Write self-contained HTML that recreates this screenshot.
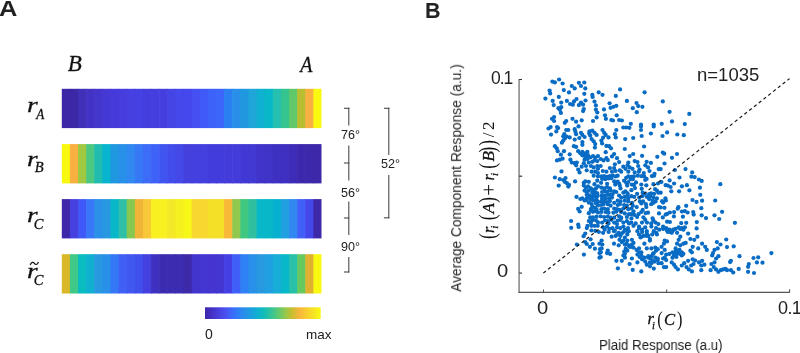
<!DOCTYPE html>
<html><head><meta charset="utf-8"><style>
html,body{margin:0;padding:0;background:#fff;}
body{width:800px;height:353px;position:relative;overflow:hidden;font-family:"Liberation Sans",sans-serif;color:#222;}
.t{position:absolute;white-space:nowrap;line-height:1;}
.s{font-family:"Liberation Serif",serif;font-style:italic;}
svg{position:absolute;left:0;top:0;will-change:transform;}
.t{will-change:transform;}
</style></head><body>
<svg width="800" height="353" viewBox="0 0 800 353"><rect x="61.80" y="88.8" width="8.72" height="39.3" fill="#3C27A6"/><rect x="69.92" y="88.8" width="8.72" height="39.3" fill="#3C27A6"/><rect x="78.03" y="88.8" width="8.72" height="39.3" fill="#4030B8"/><rect x="86.15" y="88.8" width="8.72" height="39.3" fill="#4233C4"/><rect x="94.26" y="88.8" width="8.72" height="39.3" fill="#4436CC"/><rect x="102.38" y="88.8" width="8.72" height="39.3" fill="#4538D5"/><rect x="110.49" y="88.8" width="8.72" height="39.3" fill="#463BDA"/><rect x="118.61" y="88.8" width="8.72" height="39.3" fill="#463DDC"/><rect x="126.72" y="88.8" width="8.72" height="39.3" fill="#4640E0"/><rect x="134.84" y="88.8" width="8.72" height="39.3" fill="#4540E2"/><rect x="142.96" y="88.8" width="8.72" height="39.3" fill="#443EDE"/><rect x="151.07" y="88.8" width="8.72" height="39.3" fill="#443EDF"/><rect x="159.19" y="88.8" width="8.72" height="39.3" fill="#443EDE"/><rect x="167.30" y="88.8" width="8.72" height="39.3" fill="#4545E6"/><rect x="175.42" y="88.8" width="8.72" height="39.3" fill="#4548EA"/><rect x="183.53" y="88.8" width="8.72" height="39.3" fill="#4548EC"/><rect x="191.65" y="88.8" width="8.72" height="39.3" fill="#4650F2"/><rect x="199.77" y="88.8" width="8.72" height="39.3" fill="#3F5AF8"/><rect x="207.88" y="88.8" width="8.72" height="39.3" fill="#3D62FA"/><rect x="216.00" y="88.8" width="8.72" height="39.3" fill="#3C66FA"/><rect x="224.11" y="88.8" width="8.72" height="39.3" fill="#2A80F0"/><rect x="232.23" y="88.8" width="8.72" height="39.3" fill="#2890E8"/><rect x="240.34" y="88.8" width="8.72" height="39.3" fill="#2098E0"/><rect x="248.46" y="88.8" width="8.72" height="39.3" fill="#20A5D8"/><rect x="256.57" y="88.8" width="8.72" height="39.3" fill="#10B0D0"/><rect x="264.69" y="88.8" width="8.72" height="39.3" fill="#08B8C8"/><rect x="272.81" y="88.8" width="8.72" height="39.3" fill="#25C0B0"/><rect x="280.92" y="88.8" width="8.72" height="39.3" fill="#35C490"/><rect x="289.04" y="88.8" width="8.72" height="39.3" fill="#60C868"/><rect x="297.15" y="88.8" width="8.72" height="39.3" fill="#B8BE30"/><rect x="305.27" y="88.8" width="8.72" height="39.3" fill="#F8B040"/><rect x="313.38" y="88.8" width="8.12" height="39.3" fill="#F8F810"/><rect x="61.80" y="144.1" width="8.72" height="39.3" fill="#F8F810"/><rect x="69.92" y="144.1" width="8.72" height="39.3" fill="#F8B040"/><rect x="78.03" y="144.1" width="8.72" height="39.3" fill="#A0C840"/><rect x="86.15" y="144.1" width="8.72" height="39.3" fill="#4CC880"/><rect x="94.26" y="144.1" width="8.72" height="39.3" fill="#20BCB0"/><rect x="102.38" y="144.1" width="8.72" height="39.3" fill="#08B4D0"/><rect x="110.49" y="144.1" width="8.72" height="39.3" fill="#2098E0"/><rect x="118.61" y="144.1" width="8.72" height="39.3" fill="#2890E8"/><rect x="126.72" y="144.1" width="8.72" height="39.3" fill="#3088F0"/><rect x="134.84" y="144.1" width="8.72" height="39.3" fill="#3678F5"/><rect x="142.96" y="144.1" width="8.72" height="39.3" fill="#3C6CF8"/><rect x="151.07" y="144.1" width="8.72" height="39.3" fill="#3E62F8"/><rect x="159.19" y="144.1" width="8.72" height="39.3" fill="#4055F0"/><rect x="167.30" y="144.1" width="8.72" height="39.3" fill="#424CEA"/><rect x="175.42" y="144.1" width="8.72" height="39.3" fill="#4448E6"/><rect x="183.53" y="144.1" width="8.72" height="39.3" fill="#4440DC"/><rect x="191.65" y="144.1" width="8.72" height="39.3" fill="#4440E0"/><rect x="199.77" y="144.1" width="8.72" height="39.3" fill="#4440E0"/><rect x="207.88" y="144.1" width="8.72" height="39.3" fill="#433CDC"/><rect x="216.00" y="144.1" width="8.72" height="39.3" fill="#433CDC"/><rect x="224.11" y="144.1" width="8.72" height="39.3" fill="#433CDA"/><rect x="232.23" y="144.1" width="8.72" height="39.3" fill="#433CDA"/><rect x="240.34" y="144.1" width="8.72" height="39.3" fill="#4238D4"/><rect x="248.46" y="144.1" width="8.72" height="39.3" fill="#4238D2"/><rect x="256.57" y="144.1" width="8.72" height="39.3" fill="#4134CA"/><rect x="264.69" y="144.1" width="8.72" height="39.3" fill="#4034C8"/><rect x="272.81" y="144.1" width="8.72" height="39.3" fill="#3E30C0"/><rect x="280.92" y="144.1" width="8.72" height="39.3" fill="#3E30C0"/><rect x="289.04" y="144.1" width="8.72" height="39.3" fill="#3D2CB8"/><rect x="297.15" y="144.1" width="8.72" height="39.3" fill="#3C28AC"/><rect x="305.27" y="144.1" width="8.72" height="39.3" fill="#3C28AA"/><rect x="313.38" y="144.1" width="8.12" height="39.3" fill="#3C28A8"/><rect x="61.80" y="199.1" width="8.72" height="39.3" fill="#3C28A8"/><rect x="69.92" y="199.1" width="8.72" height="39.3" fill="#4640E0"/><rect x="78.03" y="199.1" width="8.72" height="39.3" fill="#4058F8"/><rect x="86.15" y="199.1" width="8.72" height="39.3" fill="#3878F8"/><rect x="94.26" y="199.1" width="8.72" height="39.3" fill="#2A90E8"/><rect x="102.38" y="199.1" width="8.72" height="39.3" fill="#2898E0"/><rect x="110.49" y="199.1" width="8.72" height="39.3" fill="#08B8C8"/><rect x="118.61" y="199.1" width="8.72" height="39.3" fill="#30C0A8"/><rect x="126.72" y="199.1" width="8.72" height="39.3" fill="#88C850"/><rect x="134.84" y="199.1" width="8.72" height="39.3" fill="#F0B438"/><rect x="142.96" y="199.1" width="8.72" height="39.3" fill="#F8C838"/><rect x="151.07" y="199.1" width="8.72" height="39.3" fill="#F8F020"/><rect x="159.19" y="199.1" width="8.72" height="39.3" fill="#F8F020"/><rect x="167.30" y="199.1" width="8.72" height="39.3" fill="#F5E828"/><rect x="175.42" y="199.1" width="8.72" height="39.3" fill="#F5F020"/><rect x="183.53" y="199.1" width="8.72" height="39.3" fill="#F8F818"/><rect x="191.65" y="199.1" width="8.72" height="39.3" fill="#F8D830"/><rect x="199.77" y="199.1" width="8.72" height="39.3" fill="#F8D830"/><rect x="207.88" y="199.1" width="8.72" height="39.3" fill="#F5E028"/><rect x="216.00" y="199.1" width="8.72" height="39.3" fill="#F5E028"/><rect x="224.11" y="199.1" width="8.72" height="39.3" fill="#F8B838"/><rect x="232.23" y="199.1" width="8.72" height="39.3" fill="#90C850"/><rect x="240.34" y="199.1" width="8.72" height="39.3" fill="#40C880"/><rect x="248.46" y="199.1" width="8.72" height="39.3" fill="#30C0A0"/><rect x="256.57" y="199.1" width="8.72" height="39.3" fill="#08B8C8"/><rect x="264.69" y="199.1" width="8.72" height="39.3" fill="#08B8C8"/><rect x="272.81" y="199.1" width="8.72" height="39.3" fill="#08B0D0"/><rect x="280.92" y="199.1" width="8.72" height="39.3" fill="#20A0E0"/><rect x="289.04" y="199.1" width="8.72" height="39.3" fill="#3088F0"/><rect x="297.15" y="199.1" width="8.72" height="39.3" fill="#4060F8"/><rect x="305.27" y="199.1" width="8.72" height="39.3" fill="#4548E8"/><rect x="313.38" y="199.1" width="8.12" height="39.3" fill="#3C28A8"/><rect x="61.80" y="254.2" width="8.72" height="39.3" fill="#D8B828"/><rect x="69.92" y="254.2" width="8.72" height="39.3" fill="#40C888"/><rect x="78.03" y="254.2" width="8.72" height="39.3" fill="#08BCC0"/><rect x="86.15" y="254.2" width="8.72" height="39.3" fill="#10B0D0"/><rect x="94.26" y="254.2" width="8.72" height="39.3" fill="#2898E0"/><rect x="102.38" y="254.2" width="8.72" height="39.3" fill="#2890E8"/><rect x="110.49" y="254.2" width="8.72" height="39.3" fill="#3578F5"/><rect x="118.61" y="254.2" width="8.72" height="39.3" fill="#4060F5"/><rect x="126.72" y="254.2" width="8.72" height="39.3" fill="#4058F0"/><rect x="134.84" y="254.2" width="8.72" height="39.3" fill="#4050EC"/><rect x="142.96" y="254.2" width="8.72" height="39.3" fill="#4440E0"/><rect x="151.07" y="254.2" width="8.72" height="39.3" fill="#3E30C0"/><rect x="159.19" y="254.2" width="8.72" height="39.3" fill="#3C2CB0"/><rect x="167.30" y="254.2" width="8.72" height="39.3" fill="#3C2CB0"/><rect x="175.42" y="254.2" width="8.72" height="39.3" fill="#3C2CB0"/><rect x="183.53" y="254.2" width="8.72" height="39.3" fill="#3C2AA8"/><rect x="191.65" y="254.2" width="8.72" height="39.3" fill="#4234CC"/><rect x="199.77" y="254.2" width="8.72" height="39.3" fill="#4436D0"/><rect x="207.88" y="254.2" width="8.72" height="39.3" fill="#4434D0"/><rect x="216.00" y="254.2" width="8.72" height="39.3" fill="#4436D0"/><rect x="224.11" y="254.2" width="8.72" height="39.3" fill="#4440E4"/><rect x="232.23" y="254.2" width="8.72" height="39.3" fill="#3E60F8"/><rect x="240.34" y="254.2" width="8.72" height="39.3" fill="#3080F5"/><rect x="248.46" y="254.2" width="8.72" height="39.3" fill="#2890E8"/><rect x="256.57" y="254.2" width="8.72" height="39.3" fill="#2898E0"/><rect x="264.69" y="254.2" width="8.72" height="39.3" fill="#20A0E0"/><rect x="272.81" y="254.2" width="8.72" height="39.3" fill="#18ACD8"/><rect x="280.92" y="254.2" width="8.72" height="39.3" fill="#08B8C8"/><rect x="289.04" y="254.2" width="8.72" height="39.3" fill="#28C0A8"/><rect x="297.15" y="254.2" width="8.72" height="39.3" fill="#68C860"/><rect x="305.27" y="254.2" width="8.72" height="39.3" fill="#E0B030"/><rect x="313.38" y="254.2" width="8.12" height="39.3" fill="#F8F810"/><defs><linearGradient id="cb" x1="0" x2="1" y1="0" y2="0"><stop offset="0" stop-color="#3D26A8"/><stop offset="0.06" stop-color="#4431C4"/><stop offset="0.12" stop-color="#4840DE"/><stop offset="0.18" stop-color="#4A52F0"/><stop offset="0.22" stop-color="#4063F8"/><stop offset="0.26" stop-color="#3575FA"/><stop offset="0.31" stop-color="#2D86F0"/><stop offset="0.38" stop-color="#219AE2"/><stop offset="0.445" stop-color="#12AED2"/><stop offset="0.5" stop-color="#10BCBC"/><stop offset="0.56" stop-color="#2EC2A0"/><stop offset="0.62" stop-color="#52C87A"/><stop offset="0.69" stop-color="#90C850"/><stop offset="0.75" stop-color="#C8BE30"/><stop offset="0.815" stop-color="#F6B63C"/><stop offset="0.88" stop-color="#F8CE30"/><stop offset="0.945" stop-color="#F5E622"/><stop offset="1" stop-color="#F9FA12"/></linearGradient></defs><rect x="205" y="307.3" width="115.7" height="11.7" fill="url(#cb)"/><line x1="343.9" y1="108.3" x2="349.35" y2="108.3" stroke="#4a4a4a" stroke-width="1.1" /><line x1="343.9" y1="163" x2="349.35" y2="163" stroke="#4a4a4a" stroke-width="1.1" /><line x1="343.9" y1="218" x2="349.35" y2="218" stroke="#4a4a4a" stroke-width="1.1" /><line x1="343.9" y1="272" x2="349.35" y2="272" stroke="#4a4a4a" stroke-width="1.1" /><line x1="348.8" y1="107.75" x2="348.8" y2="125.5" stroke="#4a4a4a" stroke-width="1.1" /><line x1="348.8" y1="145.5" x2="348.8" y2="180.5" stroke="#4a4a4a" stroke-width="1.1" /><line x1="348.8" y1="201.5" x2="348.8" y2="235" stroke="#4a4a4a" stroke-width="1.1" /><line x1="348.8" y1="257" x2="348.8" y2="272.55" stroke="#4a4a4a" stroke-width="1.1" /><line x1="383.9" y1="108.3" x2="389.35" y2="108.3" stroke="#4a4a4a" stroke-width="1.1" /><line x1="383.9" y1="217.8" x2="389.35" y2="217.8" stroke="#4a4a4a" stroke-width="1.1" /><line x1="388.8" y1="107.75" x2="388.8" y2="155" stroke="#4a4a4a" stroke-width="1.1" /><line x1="388.8" y1="175" x2="388.8" y2="218.35" stroke="#4a4a4a" stroke-width="1.1" /><line x1="519.1" y1="79.0" x2="519.1" y2="292.6" stroke="#999" stroke-width="1.8" /><line x1="518.4" y1="292.4" x2="789.9" y2="292.4" stroke="#555" stroke-width="1.3" /><line x1="519.2" y1="79.5" x2="522" y2="79.5" stroke="#333" stroke-width="1.1" /><line x1="519.2" y1="176.2" x2="522.2" y2="176.2" stroke="#333" stroke-width="1.2" /><line x1="519.2" y1="273.1" x2="522" y2="273.1" stroke="#333" stroke-width="1.1" /><line x1="543.5" y1="292.6" x2="543.5" y2="289.5" stroke="#555" stroke-width="1.1" /><line x1="666.6" y1="292.6" x2="666.6" y2="289.5" stroke="#555" stroke-width="1.1" /><line x1="789.6" y1="292.6" x2="789.6" y2="289.2" stroke="#555" stroke-width="1.1" /><text x="67.77" y="71.4" font-size="23" font-family="Liberation Serif" font-style="italic" fill="#111" stroke="#111" stroke-width="0.3" >B</text><text x="300.3" y="71.6" font-size="23" font-family="Liberation Serif" font-style="italic" fill="#111" stroke="#111" stroke-width="0.3" textLength="12.2" lengthAdjust="spacingAndGlyphs">A</text><text transform="translate(26.9,111.9) scale(1.27,1)" x="0" y="0" font-size="21.5" font-family="Liberation Serif" font-style="italic" fill="#111" stroke="#111" stroke-width="0.3">r</text><text x="36.2" y="119" font-size="14.5" font-family="Liberation Serif" font-style="italic" fill="#111" stroke="#111" stroke-width="0.3" textLength="8.0" lengthAdjust="spacingAndGlyphs">A</text><text transform="translate(26.9,165.8) scale(1.27,1)" x="0" y="0" font-size="21.5" font-family="Liberation Serif" font-style="italic" fill="#111" stroke="#111" stroke-width="0.3">r</text><text x="34.699999999999996" y="171.5" font-size="14.5" font-family="Liberation Serif" font-style="italic" fill="#111" stroke="#111" stroke-width="0.3" >B</text><text transform="translate(26.9,222) scale(1.27,1)" x="0" y="0" font-size="21.5" font-family="Liberation Serif" font-style="italic" fill="#111" stroke="#111" stroke-width="0.3">r</text><text x="33.7" y="229" font-size="14.5" font-family="Liberation Serif" font-style="italic" fill="#111" stroke="#111" stroke-width="0.3" >C</text><text transform="translate(26.9,278.4) scale(1.27,1)" x="0" y="0" font-size="21.5" font-family="Liberation Serif" font-style="italic" fill="#111" stroke="#111" stroke-width="0.3">r</text><text x="33.7" y="284.8" font-size="14.5" font-family="Liberation Serif" font-style="italic" fill="#111" stroke="#111" stroke-width="0.3" >C</text><path d="M30.2,265 C31.2,261.6 33.4,261.9 34.4,263.4 S37.1,265.2 38.5,262.1" fill="none" stroke="#111" stroke-width="1.15"/><g transform="translate(494,238.3) rotate(-90)"><text transform="translate(0.03,0.9) scale(0.74,1)" x="-0.93" y="0" font-size="23.3" font-family="Liberation Serif" fill="#111">(</text><text x="5.40" y="0" font-size="16" font-family="Liberation Serif" font-style="italic" fill="#111" stroke="#111" stroke-width="0.3">r</text><text x="9.60" y="4" font-size="11" font-family="Liberation Serif" font-style="italic" fill="#111" stroke="#111" stroke-width="0.3">i</text><text transform="translate(18.63,0.9) scale(0.74,1)" x="-0.93" y="0" font-size="23.3" font-family="Liberation Serif" fill="#111">(</text><text x="24.85" y="0" font-size="17" font-family="Liberation Serif" font-style="italic" fill="#111" stroke="#111" stroke-width="0.3">A</text><text transform="translate(36.00,0.9) scale(0.74,1)" x="-0.70" y="0" font-size="23.3" font-family="Liberation Serif" fill="#111">)</text><text x="42.60" y="2.3" font-size="21" font-family="Liberation Serif" fill="#111">+</text><text x="57.70" y="0" font-size="16" font-family="Liberation Serif" font-style="italic" fill="#111" stroke="#111" stroke-width="0.3">r</text><text x="62.30" y="4" font-size="11" font-family="Liberation Serif" font-style="italic" fill="#111" stroke="#111" stroke-width="0.3">i</text><text transform="translate(70.33,0.9) scale(0.74,1)" x="-0.93" y="0" font-size="23.3" font-family="Liberation Serif" fill="#111">(</text><text x="76.80" y="0" font-size="17" font-family="Liberation Serif" font-style="italic" fill="#111" stroke="#111" stroke-width="0.3">B</text><text transform="translate(86.30,0.9) scale(0.74,1)" x="-0.70" y="0" font-size="23.3" font-family="Liberation Serif" fill="#111">)</text><text transform="translate(93.00,0.9) scale(0.74,1)" x="-0.70" y="0" font-size="23.3" font-family="Liberation Serif" fill="#111">)</text><text x="101.00" y="0" font-size="17" font-family="Liberation Serif" fill="#111">/</text><text x="108.30" y="0" font-size="17" font-family="Liberation Serif" fill="#111">2</text></g><text x="647.5" y="324.3" font-size="16.5" font-family="Liberation Serif" font-style="italic" fill="#111" stroke="#111" stroke-width="0.3" >r</text><text x="651.9" y="328.8" font-size="10.5" font-family="Liberation Serif" font-style="italic" fill="#111" stroke="#111" stroke-width="0.3" >i</text><text transform="translate(657.9,325.8) scale(0.74,1)" x="-0.88" y="0" font-size="22" font-family="Liberation Serif" fill="#111">(</text><text x="664.1" y="325" font-size="16.6" font-family="Liberation Serif" font-style="italic" fill="#111" stroke="#111" stroke-width="0.3" >C</text><text transform="translate(677.6,325.8) scale(0.74,1)" x="-0.66" y="0" font-size="22" font-family="Liberation Serif" fill="#111">)</text><g fill="#086BC4"><circle cx="552.4" cy="81.6" r="2.12"/><circle cx="554.9" cy="82.4" r="2.12"/><circle cx="559.1" cy="79.5" r="2.12"/><circle cx="562.6" cy="83.5" r="2.12"/><circle cx="578.9" cy="82.8" r="2.12"/><circle cx="584.3" cy="82.5" r="2.12"/><circle cx="571.8" cy="86.0" r="2.12"/><circle cx="574.7" cy="88.4" r="2.12"/><circle cx="581.0" cy="86.0" r="2.12"/><circle cx="585.3" cy="88.4" r="2.12"/><circle cx="549.6" cy="90.6" r="2.12"/><circle cx="550.2" cy="93.4" r="2.12"/><circle cx="563.8" cy="90.1" r="2.12"/><circle cx="569.0" cy="92.4" r="2.12"/><circle cx="584.3" cy="93.8" r="2.12"/><circle cx="592.3" cy="94.8" r="2.12"/><circle cx="592.6" cy="96.9" r="2.12"/><circle cx="598.7" cy="92.3" r="2.12"/><circle cx="545.4" cy="98.6" r="2.12"/><circle cx="558.8" cy="96.9" r="2.12"/><circle cx="552.7" cy="100.9" r="2.12"/><circle cx="553.7" cy="105.1" r="2.12"/><circle cx="561.2" cy="102.6" r="2.12"/><circle cx="566.9" cy="100.9" r="2.12"/><circle cx="570.1" cy="104.0" r="2.12"/><circle cx="572.8" cy="104.7" r="2.12"/><circle cx="574.0" cy="101.4" r="2.12"/><circle cx="576.5" cy="99.0" r="2.12"/><circle cx="578.9" cy="105.1" r="2.12"/><circle cx="581.0" cy="102.6" r="2.12"/><circle cx="583.1" cy="104.7" r="2.12"/><circle cx="585.5" cy="100.5" r="2.12"/><circle cx="594.5" cy="101.6" r="2.12"/><circle cx="595.9" cy="105.4" r="2.12"/><circle cx="558.4" cy="108.2" r="2.12"/><circle cx="561.2" cy="107.2" r="2.12"/><circle cx="559.8" cy="109.7" r="2.12"/><circle cx="560.9" cy="112.9" r="2.12"/><circle cx="583.8" cy="109.0" r="2.12"/><circle cx="583.1" cy="111.1" r="2.12"/><circle cx="595.9" cy="109.7" r="2.12"/><circle cx="597.3" cy="112.5" r="2.12"/><circle cx="554.1" cy="117.0" r="2.12"/><circle cx="552.0" cy="118.8" r="2.12"/><circle cx="554.1" cy="121.0" r="2.12"/><circle cx="596.6" cy="117.4" r="2.12"/><circle cx="593.0" cy="121.0" r="2.12"/><circle cx="572.5" cy="118.8" r="2.12"/><circle cx="576.1" cy="121.7" r="2.12"/><circle cx="581.7" cy="120.3" r="2.12"/><circle cx="566.2" cy="121.0" r="2.12"/><circle cx="564.8" cy="122.8" r="2.12"/><circle cx="602.5" cy="94.8" r="2.12"/><circle cx="620.1" cy="89.4" r="2.12"/><circle cx="615.8" cy="95.9" r="2.12"/><circle cx="644.6" cy="92.3" r="2.12"/><circle cx="626.9" cy="100.9" r="2.12"/><circle cx="609.6" cy="103.3" r="2.12"/><circle cx="610.6" cy="107.8" r="2.12"/><circle cx="613.4" cy="106.8" r="2.12"/><circle cx="616.3" cy="105.8" r="2.12"/><circle cx="604.0" cy="109.4" r="2.12"/><circle cx="636.5" cy="103.0" r="2.12"/><circle cx="638.2" cy="106.1" r="2.12"/><circle cx="642.4" cy="106.8" r="2.12"/><circle cx="632.8" cy="108.2" r="2.12"/><circle cx="636.8" cy="112.2" r="2.12"/><circle cx="605.0" cy="115.3" r="2.12"/><circle cx="605.9" cy="118.8" r="2.12"/><circle cx="616.7" cy="115.3" r="2.12"/><circle cx="611.3" cy="120.0" r="2.12"/><circle cx="613.0" cy="120.5" r="2.12"/><circle cx="619.1" cy="120.0" r="2.12"/><circle cx="621.9" cy="120.5" r="2.12"/><circle cx="630.8" cy="123.8" r="2.12"/><circle cx="641.0" cy="124.5" r="2.12"/><circle cx="653.7" cy="124.5" r="2.12"/><circle cx="662.8" cy="101.4" r="2.12"/><circle cx="669.6" cy="111.8" r="2.12"/><circle cx="689.3" cy="113.9" r="2.12"/><circle cx="672.0" cy="121.4" r="2.12"/><circle cx="661.7" cy="123.8" r="2.12"/><circle cx="684.8" cy="124.1" r="2.12"/><circle cx="548.5" cy="128.5" r="2.12"/><circle cx="550.6" cy="127.1" r="2.12"/><circle cx="557.0" cy="127.1" r="2.12"/><circle cx="558.1" cy="128.1" r="2.12"/><circle cx="556.3" cy="131.4" r="2.12"/><circle cx="551.0" cy="134.6" r="2.12"/><circle cx="566.2" cy="130.0" r="2.12"/><circle cx="568.3" cy="130.0" r="2.12"/><circle cx="564.3" cy="134.2" r="2.12"/><circle cx="563.3" cy="136.3" r="2.12"/><circle cx="566.6" cy="136.6" r="2.12"/><circle cx="569.7" cy="137.4" r="2.12"/><circle cx="564.8" cy="138.4" r="2.12"/><circle cx="563.3" cy="140.6" r="2.12"/><circle cx="561.9" cy="142.7" r="2.12"/><circle cx="574.7" cy="129.2" r="2.12"/><circle cx="575.4" cy="131.8" r="2.12"/><circle cx="576.1" cy="134.2" r="2.12"/><circle cx="578.5" cy="126.4" r="2.12"/><circle cx="581.0" cy="132.8" r="2.12"/><circle cx="582.4" cy="134.9" r="2.12"/><circle cx="579.3" cy="138.0" r="2.12"/><circle cx="574.7" cy="139.6" r="2.12"/><circle cx="584.6" cy="137.0" r="2.12"/><circle cx="582.4" cy="142.0" r="2.12"/><circle cx="582.4" cy="144.8" r="2.12"/><circle cx="589.5" cy="131.4" r="2.12"/><circle cx="592.3" cy="130.7" r="2.12"/><circle cx="594.5" cy="132.8" r="2.12"/><circle cx="596.6" cy="134.9" r="2.12"/><circle cx="590.2" cy="135.6" r="2.12"/><circle cx="591.6" cy="139.1" r="2.12"/><circle cx="593.7" cy="141.3" r="2.12"/><circle cx="595.2" cy="144.1" r="2.12"/><circle cx="594.9" cy="147.6" r="2.12"/><circle cx="589.2" cy="133.5" r="2.12"/><circle cx="573.9" cy="146.2" r="2.12"/><circle cx="576.1" cy="146.9" r="2.12"/><circle cx="554.9" cy="146.2" r="2.12"/><circle cx="556.7" cy="148.3" r="2.12"/><circle cx="557.7" cy="151.2" r="2.12"/><circle cx="564.0" cy="151.2" r="2.12"/><circle cx="560.9" cy="154.7" r="2.12"/><circle cx="569.7" cy="154.3" r="2.12"/><circle cx="578.2" cy="151.2" r="2.12"/><circle cx="580.3" cy="153.3" r="2.12"/><circle cx="582.4" cy="151.9" r="2.12"/><circle cx="585.3" cy="153.3" r="2.12"/><circle cx="587.4" cy="151.9" r="2.12"/><circle cx="582.4" cy="155.4" r="2.12"/><circle cx="585.3" cy="156.8" r="2.12"/><circle cx="588.1" cy="155.4" r="2.12"/><circle cx="584.6" cy="159.7" r="2.12"/><circle cx="587.4" cy="159.0" r="2.12"/><circle cx="590.2" cy="157.5" r="2.12"/><circle cx="593.0" cy="156.1" r="2.12"/><circle cx="595.2" cy="157.5" r="2.12"/><circle cx="598.0" cy="156.1" r="2.12"/><circle cx="557.0" cy="160.4" r="2.12"/><circle cx="559.8" cy="159.7" r="2.12"/><circle cx="562.6" cy="158.7" r="2.12"/><circle cx="570.4" cy="159.7" r="2.12"/><circle cx="571.8" cy="162.5" r="2.12"/><circle cx="574.7" cy="163.2" r="2.12"/><circle cx="576.8" cy="162.5" r="2.12"/><circle cx="576.1" cy="165.3" r="2.12"/><circle cx="583.8" cy="163.2" r="2.12"/><circle cx="588.8" cy="162.5" r="2.12"/><circle cx="592.3" cy="161.8" r="2.12"/><circle cx="594.5" cy="160.4" r="2.12"/><circle cx="597.3" cy="161.1" r="2.12"/><circle cx="581.7" cy="166.7" r="2.12"/><circle cx="586.0" cy="166.0" r="2.12"/><circle cx="590.9" cy="166.0" r="2.12"/><circle cx="593.7" cy="167.4" r="2.12"/><circle cx="597.3" cy="166.0" r="2.12"/><circle cx="598.0" cy="168.8" r="2.12"/><circle cx="578.2" cy="169.6" r="2.12"/><circle cx="579.6" cy="172.4" r="2.12"/><circle cx="586.7" cy="170.3" r="2.12"/><circle cx="591.6" cy="171.7" r="2.12"/><circle cx="595.2" cy="171.7" r="2.12"/><circle cx="598.0" cy="173.1" r="2.12"/><circle cx="561.5" cy="171.4" r="2.12"/><circle cx="602.5" cy="130.0" r="2.12"/><circle cx="604.2" cy="132.8" r="2.12"/><circle cx="605.7" cy="134.9" r="2.12"/><circle cx="603.1" cy="137.7" r="2.12"/><circle cx="601.4" cy="140.6" r="2.12"/><circle cx="602.1" cy="143.4" r="2.12"/><circle cx="608.5" cy="137.4" r="2.12"/><circle cx="614.9" cy="134.2" r="2.12"/><circle cx="616.3" cy="130.0" r="2.12"/><circle cx="615.8" cy="137.4" r="2.12"/><circle cx="623.3" cy="127.5" r="2.12"/><circle cx="626.2" cy="127.5" r="2.12"/><circle cx="629.4" cy="127.8" r="2.12"/><circle cx="641.0" cy="126.4" r="2.12"/><circle cx="641.0" cy="130.0" r="2.12"/><circle cx="653.7" cy="126.4" r="2.12"/><circle cx="650.9" cy="133.5" r="2.12"/><circle cx="641.7" cy="136.0" r="2.12"/><circle cx="633.2" cy="138.0" r="2.12"/><circle cx="625.2" cy="139.1" r="2.12"/><circle cx="644.1" cy="146.5" r="2.12"/><circle cx="624.8" cy="149.0" r="2.12"/><circle cx="606.4" cy="145.9" r="2.12"/><circle cx="609.2" cy="146.2" r="2.12"/><circle cx="611.0" cy="148.3" r="2.12"/><circle cx="605.7" cy="152.2" r="2.12"/><circle cx="614.1" cy="154.0" r="2.12"/><circle cx="612.0" cy="156.4" r="2.12"/><circle cx="617.0" cy="158.2" r="2.12"/><circle cx="606.4" cy="158.2" r="2.12"/><circle cx="603.5" cy="160.4" r="2.12"/><circle cx="607.8" cy="160.1" r="2.12"/><circle cx="600.7" cy="159.0" r="2.12"/><circle cx="619.1" cy="162.1" r="2.12"/><circle cx="629.7" cy="156.1" r="2.12"/><circle cx="633.2" cy="154.0" r="2.12"/><circle cx="642.1" cy="155.8" r="2.12"/><circle cx="657.3" cy="156.8" r="2.12"/><circle cx="634.7" cy="161.1" r="2.12"/><circle cx="637.5" cy="162.1" r="2.12"/><circle cx="646.7" cy="161.8" r="2.12"/><circle cx="650.9" cy="162.9" r="2.12"/><circle cx="628.3" cy="162.5" r="2.12"/><circle cx="614.9" cy="164.3" r="2.12"/><circle cx="627.6" cy="165.3" r="2.12"/><circle cx="623.3" cy="166.7" r="2.12"/><circle cx="629.7" cy="167.4" r="2.12"/><circle cx="638.2" cy="166.0" r="2.12"/><circle cx="645.3" cy="165.3" r="2.12"/><circle cx="600.7" cy="166.0" r="2.12"/><circle cx="609.9" cy="168.1" r="2.12"/><circle cx="614.1" cy="168.1" r="2.12"/><circle cx="619.8" cy="170.3" r="2.12"/><circle cx="625.5" cy="168.8" r="2.12"/><circle cx="632.5" cy="168.8" r="2.12"/><circle cx="639.6" cy="169.6" r="2.12"/><circle cx="648.1" cy="167.4" r="2.12"/><circle cx="658.7" cy="169.1" r="2.12"/><circle cx="602.8" cy="171.0" r="2.12"/><circle cx="606.4" cy="171.7" r="2.12"/><circle cx="612.0" cy="171.7" r="2.12"/><circle cx="615.6" cy="171.0" r="2.12"/><circle cx="621.2" cy="171.7" r="2.12"/><circle cx="628.3" cy="171.7" r="2.12"/><circle cx="634.7" cy="172.4" r="2.12"/><circle cx="638.9" cy="171.7" r="2.12"/><circle cx="643.8" cy="173.1" r="2.12"/><circle cx="649.5" cy="171.0" r="2.12"/><circle cx="654.5" cy="173.8" r="2.12"/><circle cx="667.1" cy="132.4" r="2.12"/><circle cx="662.5" cy="136.0" r="2.12"/><circle cx="677.3" cy="134.5" r="2.12"/><circle cx="683.8" cy="135.2" r="2.12"/><circle cx="662.8" cy="152.6" r="2.12"/><circle cx="664.2" cy="153.7" r="2.12"/><circle cx="677.0" cy="154.0" r="2.12"/><circle cx="672.0" cy="157.8" r="2.12"/><circle cx="664.5" cy="163.5" r="2.12"/><circle cx="660.7" cy="169.1" r="2.12"/><circle cx="674.9" cy="170.0" r="2.12"/><circle cx="685.5" cy="169.1" r="2.12"/><circle cx="692.2" cy="172.4" r="2.12"/><circle cx="554.9" cy="177.5" r="2.12"/><circle cx="559.8" cy="179.2" r="2.12"/><circle cx="563.3" cy="180.0" r="2.12"/><circle cx="565.5" cy="178.1" r="2.12"/><circle cx="564.8" cy="181.8" r="2.12"/><circle cx="566.9" cy="183.2" r="2.12"/><circle cx="569.0" cy="184.9" r="2.12"/><circle cx="568.3" cy="186.6" r="2.12"/><circle cx="558.7" cy="185.6" r="2.12"/><circle cx="575.1" cy="181.4" r="2.12"/><circle cx="583.8" cy="182.8" r="2.12"/><circle cx="585.3" cy="181.4" r="2.12"/><circle cx="588.8" cy="181.8" r="2.12"/><circle cx="594.5" cy="184.2" r="2.12"/><circle cx="593.7" cy="175.7" r="2.12"/><circle cx="598.0" cy="176.4" r="2.12"/><circle cx="597.3" cy="180.7" r="2.12"/><circle cx="583.8" cy="185.6" r="2.12"/><circle cx="586.0" cy="187.7" r="2.12"/><circle cx="588.1" cy="186.3" r="2.12"/><circle cx="590.9" cy="188.4" r="2.12"/><circle cx="593.0" cy="189.9" r="2.12"/><circle cx="595.9" cy="188.4" r="2.12"/><circle cx="598.0" cy="186.3" r="2.12"/><circle cx="584.6" cy="190.6" r="2.12"/><circle cx="586.7" cy="192.0" r="2.12"/><circle cx="588.8" cy="190.6" r="2.12"/><circle cx="592.3" cy="192.7" r="2.12"/><circle cx="595.2" cy="192.0" r="2.12"/><circle cx="597.3" cy="193.4" r="2.12"/><circle cx="588.1" cy="194.8" r="2.12"/><circle cx="590.2" cy="196.2" r="2.12"/><circle cx="593.0" cy="196.2" r="2.12"/><circle cx="595.9" cy="196.9" r="2.12"/><circle cx="576.5" cy="196.9" r="2.12"/><circle cx="580.3" cy="199.0" r="2.12"/><circle cx="582.4" cy="198.3" r="2.12"/><circle cx="584.6" cy="200.5" r="2.12"/><circle cx="586.7" cy="198.3" r="2.12"/><circle cx="590.9" cy="199.8" r="2.12"/><circle cx="593.7" cy="200.5" r="2.12"/><circle cx="596.6" cy="199.8" r="2.12"/><circle cx="588.8" cy="202.6" r="2.12"/><circle cx="591.6" cy="204.0" r="2.12"/><circle cx="595.9" cy="203.3" r="2.12"/><circle cx="598.0" cy="205.4" r="2.12"/><circle cx="592.3" cy="206.8" r="2.12"/><circle cx="595.2" cy="208.2" r="2.12"/><circle cx="581.7" cy="206.8" r="2.12"/><circle cx="578.2" cy="208.9" r="2.12"/><circle cx="579.6" cy="211.5" r="2.12"/><circle cx="590.9" cy="210.4" r="2.12"/><circle cx="593.0" cy="211.8" r="2.12"/><circle cx="595.9" cy="211.1" r="2.12"/><circle cx="588.8" cy="213.2" r="2.12"/><circle cx="598.0" cy="212.5" r="2.12"/><circle cx="571.1" cy="221.0" r="2.12"/><circle cx="590.2" cy="217.4" r="2.12"/><circle cx="593.0" cy="217.4" r="2.12"/><circle cx="596.6" cy="216.7" r="2.12"/><circle cx="588.8" cy="221.0" r="2.12"/><circle cx="592.3" cy="220.3" r="2.12"/><circle cx="595.9" cy="220.3" r="2.12"/><circle cx="598.0" cy="222.4" r="2.12"/><circle cx="590.9" cy="223.1" r="2.12"/><circle cx="578.2" cy="224.5" r="2.12"/><circle cx="601.4" cy="176.4" r="2.12"/><circle cx="604.2" cy="176.1" r="2.12"/><circle cx="607.1" cy="176.8" r="2.12"/><circle cx="609.9" cy="176.1" r="2.12"/><circle cx="612.7" cy="175.7" r="2.12"/><circle cx="615.6" cy="176.4" r="2.12"/><circle cx="617.7" cy="175.7" r="2.12"/><circle cx="602.1" cy="178.9" r="2.12"/><circle cx="605.3" cy="179.2" r="2.12"/><circle cx="608.5" cy="178.5" r="2.12"/><circle cx="611.3" cy="178.2" r="2.12"/><circle cx="626.2" cy="177.8" r="2.12"/><circle cx="628.3" cy="176.4" r="2.12"/><circle cx="624.1" cy="180.7" r="2.12"/><circle cx="626.2" cy="182.8" r="2.12"/><circle cx="627.2" cy="185.6" r="2.12"/><circle cx="628.3" cy="182.1" r="2.12"/><circle cx="614.2" cy="181.4" r="2.12"/><circle cx="615.2" cy="184.6" r="2.12"/><circle cx="617.7" cy="181.7" r="2.12"/><circle cx="619.1" cy="183.5" r="2.12"/><circle cx="619.8" cy="185.6" r="2.12"/><circle cx="601.1" cy="182.8" r="2.12"/><circle cx="607.1" cy="183.8" r="2.12"/><circle cx="601.4" cy="187.7" r="2.12"/><circle cx="604.2" cy="188.4" r="2.12"/><circle cx="607.1" cy="187.0" r="2.12"/><circle cx="609.9" cy="188.4" r="2.12"/><circle cx="602.1" cy="192.0" r="2.12"/><circle cx="605.0" cy="191.3" r="2.12"/><circle cx="607.8" cy="191.3" r="2.12"/><circle cx="610.6" cy="190.6" r="2.12"/><circle cx="614.2" cy="191.3" r="2.12"/><circle cx="616.3" cy="192.0" r="2.12"/><circle cx="601.4" cy="195.5" r="2.12"/><circle cx="604.2" cy="195.5" r="2.12"/><circle cx="607.1" cy="194.8" r="2.12"/><circle cx="609.9" cy="194.8" r="2.12"/><circle cx="612.7" cy="194.1" r="2.12"/><circle cx="602.1" cy="198.4" r="2.12"/><circle cx="605.7" cy="198.4" r="2.12"/><circle cx="609.2" cy="198.4" r="2.12"/><circle cx="612.0" cy="197.6" r="2.12"/><circle cx="620.5" cy="188.4" r="2.12"/><circle cx="623.4" cy="192.7" r="2.12"/><circle cx="625.5" cy="191.3" r="2.12"/><circle cx="627.6" cy="193.4" r="2.12"/><circle cx="619.1" cy="195.5" r="2.12"/><circle cx="621.2" cy="197.6" r="2.12"/><circle cx="624.8" cy="196.9" r="2.12"/><circle cx="628.3" cy="198.4" r="2.12"/><circle cx="627.6" cy="195.5" r="2.12"/><circle cx="631.4" cy="176.8" r="2.12"/><circle cx="633.9" cy="176.4" r="2.12"/><circle cx="637.8" cy="175.7" r="2.12"/><circle cx="641.3" cy="176.1" r="2.12"/><circle cx="644.2" cy="176.4" r="2.12"/><circle cx="646.6" cy="178.9" r="2.12"/><circle cx="645.2" cy="180.0" r="2.12"/><circle cx="632.8" cy="179.2" r="2.12"/><circle cx="630.7" cy="179.2" r="2.12"/><circle cx="651.9" cy="176.1" r="2.12"/><circle cx="654.1" cy="175.7" r="2.12"/><circle cx="636.0" cy="182.4" r="2.12"/><circle cx="631.8" cy="184.6" r="2.12"/><circle cx="633.9" cy="184.9" r="2.12"/><circle cx="641.3" cy="184.6" r="2.12"/><circle cx="646.3" cy="185.3" r="2.12"/><circle cx="653.4" cy="184.2" r="2.12"/><circle cx="658.0" cy="183.5" r="2.12"/><circle cx="635.0" cy="188.1" r="2.12"/><circle cx="641.7" cy="188.8" r="2.12"/><circle cx="631.4" cy="190.2" r="2.12"/><circle cx="655.1" cy="189.2" r="2.12"/><circle cx="656.9" cy="190.6" r="2.12"/><circle cx="637.1" cy="193.8" r="2.12"/><circle cx="642.7" cy="192.7" r="2.12"/><circle cx="644.9" cy="193.8" r="2.12"/><circle cx="649.1" cy="194.1" r="2.12"/><circle cx="651.2" cy="193.4" r="2.12"/><circle cx="654.1" cy="193.8" r="2.12"/><circle cx="658.3" cy="192.7" r="2.12"/><circle cx="631.4" cy="196.2" r="2.12"/><circle cx="634.2" cy="196.9" r="2.12"/><circle cx="639.2" cy="197.6" r="2.12"/><circle cx="642.4" cy="196.2" r="2.12"/><circle cx="647.0" cy="196.9" r="2.12"/><circle cx="650.5" cy="196.2" r="2.12"/><circle cx="653.4" cy="197.6" r="2.12"/><circle cx="656.9" cy="198.4" r="2.12"/><circle cx="649.1" cy="199.1" r="2.12"/><circle cx="601.4" cy="201.4" r="2.12"/><circle cx="604.2" cy="201.4" r="2.12"/><circle cx="607.1" cy="202.1" r="2.12"/><circle cx="609.9" cy="201.1" r="2.12"/><circle cx="617.7" cy="200.7" r="2.12"/><circle cx="620.5" cy="201.4" r="2.12"/><circle cx="624.8" cy="200.7" r="2.12"/><circle cx="628.3" cy="201.4" r="2.12"/><circle cx="614.2" cy="202.8" r="2.12"/><circle cx="601.4" cy="205.0" r="2.12"/><circle cx="603.5" cy="204.2" r="2.12"/><circle cx="607.8" cy="204.2" r="2.12"/><circle cx="610.6" cy="205.7" r="2.12"/><circle cx="617.7" cy="205.0" r="2.12"/><circle cx="619.8" cy="204.2" r="2.12"/><circle cx="624.1" cy="205.0" r="2.12"/><circle cx="626.9" cy="205.7" r="2.12"/><circle cx="601.4" cy="209.2" r="2.12"/><circle cx="604.2" cy="208.5" r="2.12"/><circle cx="607.8" cy="209.2" r="2.12"/><circle cx="614.2" cy="208.5" r="2.12"/><circle cx="617.0" cy="209.2" r="2.12"/><circle cx="619.8" cy="209.9" r="2.12"/><circle cx="623.4" cy="208.5" r="2.12"/><circle cx="628.3" cy="209.2" r="2.12"/><circle cx="601.4" cy="212.0" r="2.12"/><circle cx="605.7" cy="212.0" r="2.12"/><circle cx="608.5" cy="212.7" r="2.12"/><circle cx="613.4" cy="212.7" r="2.12"/><circle cx="616.3" cy="211.7" r="2.12"/><circle cx="621.2" cy="212.0" r="2.12"/><circle cx="624.8" cy="213.4" r="2.12"/><circle cx="629.0" cy="214.2" r="2.12"/><circle cx="600.7" cy="216.3" r="2.12"/><circle cx="604.2" cy="217.0" r="2.12"/><circle cx="607.8" cy="216.6" r="2.12"/><circle cx="610.6" cy="217.7" r="2.12"/><circle cx="614.2" cy="217.7" r="2.12"/><circle cx="619.1" cy="216.3" r="2.12"/><circle cx="621.2" cy="217.7" r="2.12"/><circle cx="626.9" cy="217.0" r="2.12"/><circle cx="602.1" cy="222.6" r="2.12"/><circle cx="605.0" cy="220.5" r="2.12"/><circle cx="607.8" cy="221.2" r="2.12"/><circle cx="611.3" cy="219.8" r="2.12"/><circle cx="608.5" cy="223.4" r="2.12"/><circle cx="614.2" cy="222.6" r="2.12"/><circle cx="617.7" cy="220.5" r="2.12"/><circle cx="620.5" cy="219.8" r="2.12"/><circle cx="623.4" cy="222.6" r="2.12"/><circle cx="626.9" cy="221.2" r="2.12"/><circle cx="629.0" cy="223.4" r="2.12"/><circle cx="617.0" cy="224.1" r="2.12"/><circle cx="632.1" cy="202.8" r="2.12"/><circle cx="632.8" cy="205.7" r="2.12"/><circle cx="631.4" cy="208.5" r="2.12"/><circle cx="633.5" cy="211.3" r="2.12"/><circle cx="631.1" cy="214.2" r="2.12"/><circle cx="634.2" cy="214.9" r="2.12"/><circle cx="636.7" cy="207.1" r="2.12"/><circle cx="639.9" cy="201.4" r="2.12"/><circle cx="641.3" cy="203.5" r="2.12"/><circle cx="643.1" cy="201.4" r="2.12"/><circle cx="645.9" cy="204.2" r="2.12"/><circle cx="646.3" cy="207.1" r="2.12"/><circle cx="642.7" cy="209.9" r="2.12"/><circle cx="641.3" cy="212.0" r="2.12"/><circle cx="638.5" cy="214.2" r="2.12"/><circle cx="645.6" cy="213.1" r="2.12"/><circle cx="648.0" cy="212.7" r="2.12"/><circle cx="643.4" cy="217.3" r="2.12"/><circle cx="645.2" cy="219.8" r="2.12"/><circle cx="647.0" cy="222.6" r="2.12"/><circle cx="642.0" cy="222.6" r="2.12"/><circle cx="637.1" cy="217.0" r="2.12"/><circle cx="631.4" cy="218.4" r="2.12"/><circle cx="631.4" cy="222.6" r="2.12"/><circle cx="635.7" cy="223.4" r="2.12"/><circle cx="651.2" cy="204.2" r="2.12"/><circle cx="653.4" cy="202.8" r="2.12"/><circle cx="655.5" cy="201.4" r="2.12"/><circle cx="652.6" cy="200.7" r="2.12"/><circle cx="659.0" cy="207.1" r="2.12"/><circle cx="659.0" cy="213.4" r="2.12"/><circle cx="652.6" cy="218.4" r="2.12"/><circle cx="653.4" cy="220.5" r="2.12"/><circle cx="655.5" cy="222.6" r="2.12"/><circle cx="658.3" cy="224.1" r="2.12"/><circle cx="651.2" cy="223.4" r="2.12"/><circle cx="661.4" cy="182.1" r="2.12"/><circle cx="669.6" cy="180.4" r="2.12"/><circle cx="665.7" cy="185.2" r="2.12"/><circle cx="667.8" cy="185.6" r="2.12"/><circle cx="670.6" cy="187.0" r="2.12"/><circle cx="674.1" cy="183.5" r="2.12"/><circle cx="671.3" cy="191.3" r="2.12"/><circle cx="679.5" cy="177.5" r="2.12"/><circle cx="681.9" cy="186.3" r="2.12"/><circle cx="686.9" cy="185.2" r="2.12"/><circle cx="679.1" cy="191.3" r="2.12"/><circle cx="689.4" cy="190.3" r="2.12"/><circle cx="691.4" cy="176.7" r="2.12"/><circle cx="694.7" cy="177.1" r="2.12"/><circle cx="698.9" cy="179.5" r="2.12"/><circle cx="701.7" cy="180.9" r="2.12"/><circle cx="699.9" cy="187.7" r="2.12"/><circle cx="700.3" cy="194.8" r="2.12"/><circle cx="720.3" cy="184.2" r="2.12"/><circle cx="660.7" cy="192.7" r="2.12"/><circle cx="665.4" cy="198.3" r="2.12"/><circle cx="665.9" cy="200.5" r="2.12"/><circle cx="662.1" cy="201.2" r="2.12"/><circle cx="663.1" cy="202.6" r="2.12"/><circle cx="692.5" cy="200.0" r="2.12"/><circle cx="696.5" cy="201.9" r="2.12"/><circle cx="702.1" cy="200.7" r="2.12"/><circle cx="715.2" cy="200.5" r="2.12"/><circle cx="686.2" cy="205.8" r="2.12"/><circle cx="678.4" cy="207.2" r="2.12"/><circle cx="677.7" cy="208.7" r="2.12"/><circle cx="664.5" cy="207.8" r="2.12"/><circle cx="660.7" cy="207.5" r="2.12"/><circle cx="701.3" cy="208.2" r="2.12"/><circle cx="681.9" cy="211.5" r="2.12"/><circle cx="684.8" cy="211.1" r="2.12"/><circle cx="687.6" cy="212.5" r="2.12"/><circle cx="674.1" cy="212.1" r="2.12"/><circle cx="669.9" cy="212.5" r="2.12"/><circle cx="667.1" cy="213.9" r="2.12"/><circle cx="665.7" cy="214.6" r="2.12"/><circle cx="693.2" cy="212.1" r="2.12"/><circle cx="693.7" cy="214.6" r="2.12"/><circle cx="701.7" cy="215.3" r="2.12"/><circle cx="714.5" cy="215.3" r="2.12"/><circle cx="719.2" cy="219.0" r="2.12"/><circle cx="662.8" cy="217.4" r="2.12"/><circle cx="673.9" cy="216.4" r="2.12"/><circle cx="682.9" cy="216.7" r="2.12"/><circle cx="706.0" cy="218.1" r="2.12"/><circle cx="667.1" cy="221.7" r="2.12"/><circle cx="669.9" cy="222.0" r="2.12"/><circle cx="681.2" cy="223.1" r="2.12"/><circle cx="686.2" cy="222.8" r="2.12"/><circle cx="696.8" cy="222.1" r="2.12"/><circle cx="722.1" cy="211.8" r="2.12"/><circle cx="734.9" cy="222.8" r="2.12"/><circle cx="571.2" cy="227.8" r="2.12"/><circle cx="578.6" cy="226.9" r="2.12"/><circle cx="586.8" cy="228.1" r="2.12"/><circle cx="587.5" cy="225.8" r="2.12"/><circle cx="591.4" cy="225.8" r="2.12"/><circle cx="594.5" cy="225.8" r="2.12"/><circle cx="597.7" cy="225.8" r="2.12"/><circle cx="591.4" cy="230.5" r="2.12"/><circle cx="595.3" cy="230.9" r="2.12"/><circle cx="598.9" cy="232.0" r="2.12"/><circle cx="585.2" cy="233.6" r="2.12"/><circle cx="583.6" cy="236.2" r="2.12"/><circle cx="590.6" cy="239.3" r="2.12"/><circle cx="585.2" cy="242.1" r="2.12"/><circle cx="586.8" cy="244.0" r="2.12"/><circle cx="592.7" cy="244.0" r="2.12"/><circle cx="589.9" cy="246.8" r="2.12"/><circle cx="594.9" cy="248.7" r="2.12"/><circle cx="576.9" cy="244.5" r="2.12"/><circle cx="599.5" cy="243.7" r="2.12"/><circle cx="600.0" cy="249.2" r="2.12"/><circle cx="599.5" cy="253.1" r="2.12"/><circle cx="583.9" cy="254.6" r="2.12"/><circle cx="599.5" cy="257.7" r="2.12"/><circle cx="603.1" cy="227.3" r="2.12"/><circle cx="607.0" cy="226.6" r="2.12"/><circle cx="612.5" cy="228.1" r="2.12"/><circle cx="617.1" cy="227.3" r="2.12"/><circle cx="623.4" cy="226.6" r="2.12"/><circle cx="628.0" cy="228.1" r="2.12"/><circle cx="633.5" cy="225.8" r="2.12"/><circle cx="639.0" cy="226.6" r="2.12"/><circle cx="645.2" cy="227.3" r="2.12"/><circle cx="651.4" cy="226.6" r="2.12"/><circle cx="656.1" cy="228.1" r="2.12"/><circle cx="603.1" cy="232.8" r="2.12"/><circle cx="608.6" cy="232.0" r="2.12"/><circle cx="614.0" cy="231.2" r="2.12"/><circle cx="618.7" cy="232.8" r="2.12"/><circle cx="623.4" cy="232.0" r="2.12"/><circle cx="627.3" cy="231.2" r="2.12"/><circle cx="637.4" cy="231.2" r="2.12"/><circle cx="642.1" cy="232.0" r="2.12"/><circle cx="646.8" cy="233.6" r="2.12"/><circle cx="652.2" cy="234.4" r="2.12"/><circle cx="656.1" cy="232.8" r="2.12"/><circle cx="611.7" cy="236.7" r="2.12"/><circle cx="615.6" cy="235.9" r="2.12"/><circle cx="620.3" cy="235.9" r="2.12"/><circle cx="624.9" cy="237.5" r="2.12"/><circle cx="640.5" cy="237.5" r="2.12"/><circle cx="643.6" cy="235.9" r="2.12"/><circle cx="646.8" cy="235.9" r="2.12"/><circle cx="649.9" cy="239.0" r="2.12"/><circle cx="601.6" cy="240.6" r="2.12"/><circle cx="602.3" cy="244.5" r="2.12"/><circle cx="601.6" cy="248.4" r="2.12"/><circle cx="600.8" cy="252.3" r="2.12"/><circle cx="607.8" cy="250.7" r="2.12"/><circle cx="610.1" cy="253.8" r="2.12"/><circle cx="607.0" cy="253.1" r="2.12"/><circle cx="614.0" cy="243.7" r="2.12"/><circle cx="619.5" cy="239.8" r="2.12"/><circle cx="621.8" cy="242.1" r="2.12"/><circle cx="624.9" cy="244.5" r="2.12"/><circle cx="627.3" cy="240.6" r="2.12"/><circle cx="631.9" cy="239.8" r="2.12"/><circle cx="633.5" cy="242.9" r="2.12"/><circle cx="631.2" cy="246.8" r="2.12"/><circle cx="628.8" cy="245.3" r="2.12"/><circle cx="625.7" cy="248.4" r="2.12"/><circle cx="624.2" cy="251.5" r="2.12"/><circle cx="618.7" cy="245.3" r="2.12"/><circle cx="644.4" cy="243.7" r="2.12"/><circle cx="636.6" cy="249.9" r="2.12"/><circle cx="639.0" cy="248.4" r="2.12"/><circle cx="641.3" cy="252.3" r="2.12"/><circle cx="646.8" cy="248.4" r="2.12"/><circle cx="651.4" cy="248.4" r="2.12"/><circle cx="655.3" cy="247.6" r="2.12"/><circle cx="657.7" cy="249.2" r="2.12"/><circle cx="623.4" cy="255.4" r="2.12"/><circle cx="624.9" cy="257.7" r="2.12"/><circle cx="621.8" cy="260.8" r="2.12"/><circle cx="616.4" cy="260.8" r="2.12"/><circle cx="631.9" cy="258.5" r="2.12"/><circle cx="637.4" cy="254.6" r="2.12"/><circle cx="639.7" cy="257.0" r="2.12"/><circle cx="642.1" cy="259.3" r="2.12"/><circle cx="645.2" cy="261.6" r="2.12"/><circle cx="648.3" cy="257.7" r="2.12"/><circle cx="651.4" cy="256.2" r="2.12"/><circle cx="653.8" cy="253.1" r="2.12"/><circle cx="649.9" cy="262.4" r="2.12"/><circle cx="653.0" cy="260.8" r="2.12"/><circle cx="655.3" cy="257.7" r="2.12"/><circle cx="657.7" cy="260.1" r="2.12"/><circle cx="658.4" cy="263.2" r="2.12"/><circle cx="646.8" cy="264.7" r="2.12"/><circle cx="637.4" cy="262.4" r="2.12"/><circle cx="629.6" cy="264.0" r="2.12"/><circle cx="600.8" cy="257.0" r="2.12"/><circle cx="617.9" cy="268.3" r="2.12"/><circle cx="632.7" cy="269.9" r="2.12"/><circle cx="641.3" cy="271.4" r="2.12"/><circle cx="649.9" cy="266.3" r="2.12"/><circle cx="653.8" cy="268.6" r="2.12"/><circle cx="663.1" cy="226.6" r="2.12"/><circle cx="666.2" cy="228.1" r="2.12"/><circle cx="669.4" cy="229.7" r="2.12"/><circle cx="672.5" cy="231.2" r="2.12"/><circle cx="675.6" cy="228.9" r="2.12"/><circle cx="678.7" cy="227.3" r="2.12"/><circle cx="681.8" cy="228.1" r="2.12"/><circle cx="684.9" cy="227.3" r="2.12"/><circle cx="667.8" cy="232.0" r="2.12"/><circle cx="671.7" cy="232.8" r="2.12"/><circle cx="677.1" cy="232.8" r="2.12"/><circle cx="663.1" cy="228.9" r="2.12"/><circle cx="696.6" cy="228.4" r="2.12"/><circle cx="688.1" cy="233.6" r="2.12"/><circle cx="680.3" cy="236.7" r="2.12"/><circle cx="678.7" cy="239.8" r="2.12"/><circle cx="690.4" cy="239.0" r="2.12"/><circle cx="694.3" cy="239.8" r="2.12"/><circle cx="697.4" cy="236.7" r="2.12"/><circle cx="664.7" cy="240.6" r="2.12"/><circle cx="667.0" cy="241.4" r="2.12"/><circle cx="663.9" cy="243.7" r="2.12"/><circle cx="677.1" cy="243.7" r="2.12"/><circle cx="680.3" cy="245.3" r="2.12"/><circle cx="683.4" cy="243.7" r="2.12"/><circle cx="685.7" cy="242.9" r="2.12"/><circle cx="692.7" cy="246.8" r="2.12"/><circle cx="698.2" cy="248.4" r="2.12"/><circle cx="702.1" cy="243.7" r="2.12"/><circle cx="705.2" cy="246.8" r="2.12"/><circle cx="706.8" cy="249.9" r="2.12"/><circle cx="716.9" cy="242.1" r="2.12"/><circle cx="717.7" cy="248.4" r="2.12"/><circle cx="714.5" cy="249.9" r="2.12"/><circle cx="713.0" cy="253.1" r="2.12"/><circle cx="712.2" cy="255.4" r="2.12"/><circle cx="661.6" cy="246.8" r="2.12"/><circle cx="664.7" cy="249.9" r="2.12"/><circle cx="661.6" cy="253.1" r="2.12"/><circle cx="666.2" cy="254.6" r="2.12"/><circle cx="669.4" cy="253.8" r="2.12"/><circle cx="672.5" cy="252.3" r="2.12"/><circle cx="675.6" cy="251.5" r="2.12"/><circle cx="678.7" cy="250.7" r="2.12"/><circle cx="681.8" cy="252.3" r="2.12"/><circle cx="683.4" cy="253.8" r="2.12"/><circle cx="677.1" cy="253.8" r="2.12"/><circle cx="674.0" cy="255.4" r="2.12"/><circle cx="664.7" cy="257.7" r="2.12"/><circle cx="690.4" cy="250.7" r="2.12"/><circle cx="691.9" cy="252.3" r="2.12"/><circle cx="672.5" cy="257.7" r="2.12"/><circle cx="676.4" cy="257.0" r="2.12"/><circle cx="663.1" cy="258.5" r="2.12"/><circle cx="666.2" cy="260.1" r="2.12"/><circle cx="661.6" cy="263.2" r="2.12"/><circle cx="671.7" cy="262.4" r="2.12"/><circle cx="674.0" cy="264.7" r="2.12"/><circle cx="675.6" cy="267.1" r="2.12"/><circle cx="677.9" cy="269.4" r="2.12"/><circle cx="681.8" cy="265.5" r="2.12"/><circle cx="684.2" cy="263.2" r="2.12"/><circle cx="688.1" cy="260.8" r="2.12"/><circle cx="692.7" cy="259.3" r="2.12"/><circle cx="695.1" cy="260.5" r="2.12"/><circle cx="693.5" cy="264.0" r="2.12"/><circle cx="691.2" cy="265.5" r="2.12"/><circle cx="686.5" cy="267.1" r="2.12"/><circle cx="688.8" cy="269.4" r="2.12"/><circle cx="691.9" cy="271.4" r="2.12"/><circle cx="699.0" cy="262.4" r="2.12"/><circle cx="702.1" cy="260.8" r="2.12"/><circle cx="701.3" cy="265.5" r="2.12"/><circle cx="704.4" cy="264.7" r="2.12"/><circle cx="701.3" cy="270.2" r="2.12"/><circle cx="711.4" cy="264.0" r="2.12"/><circle cx="714.5" cy="262.4" r="2.12"/><circle cx="716.1" cy="258.5" r="2.12"/><circle cx="718.4" cy="256.2" r="2.12"/><circle cx="713.8" cy="267.1" r="2.12"/><circle cx="710.6" cy="270.2" r="2.12"/><circle cx="716.1" cy="269.4" r="2.12"/><circle cx="718.4" cy="271.8" r="2.12"/><circle cx="663.9" cy="267.1" r="2.12"/><circle cx="666.2" cy="267.1" r="2.12"/><circle cx="726.2" cy="239.5" r="2.12"/><circle cx="720.5" cy="244.5" r="2.12"/><circle cx="727.0" cy="247.1" r="2.12"/><circle cx="733.7" cy="246.3" r="2.12"/><circle cx="739.5" cy="256.2" r="2.12"/><circle cx="730.9" cy="260.8" r="2.12"/><circle cx="730.1" cy="262.1" r="2.12"/><circle cx="753.5" cy="258.0" r="2.12"/><circle cx="758.2" cy="257.3" r="2.12"/><circle cx="756.9" cy="262.4" r="2.12"/><circle cx="762.5" cy="262.7" r="2.12"/><circle cx="771.4" cy="253.1" r="2.12"/><circle cx="748.8" cy="264.0" r="2.12"/><circle cx="748.1" cy="266.8" r="2.12"/><circle cx="720.8" cy="270.2" r="2.12"/><circle cx="723.1" cy="269.4" r="2.12"/><circle cx="725.5" cy="268.9" r="2.12"/><circle cx="727.0" cy="270.2" r="2.12"/><circle cx="730.9" cy="270.2" r="2.12"/><circle cx="733.2" cy="272.5" r="2.12"/><circle cx="738.7" cy="268.9" r="2.12"/><circle cx="748.1" cy="271.8" r="2.12"/><circle cx="754.0" cy="273.0" r="2.12"/><circle cx="667.0" cy="230.5" r="2.12"/><circle cx="670.1" cy="232.0" r="2.12"/><circle cx="673.2" cy="229.7" r="2.12"/><circle cx="680.3" cy="228.9" r="2.12"/><circle cx="683.4" cy="229.7" r="2.12"/><circle cx="675.6" cy="248.4" r="2.12"/><circle cx="679.5" cy="249.9" r="2.12"/><circle cx="677.1" cy="252.3" r="2.12"/><circle cx="680.3" cy="253.8" r="2.12"/><circle cx="674.8" cy="253.8" r="2.12"/><circle cx="681.8" cy="255.4" r="2.12"/><circle cx="586.7" cy="194.8" r="2.12"/><circle cx="589.5" cy="197.6" r="2.12"/><circle cx="592.3" cy="199.0" r="2.12"/><circle cx="586.7" cy="199.8" r="2.12"/><circle cx="594.5" cy="194.8" r="2.12"/><circle cx="597.3" cy="196.2" r="2.12"/><circle cx="598.0" cy="201.9" r="2.12"/><circle cx="593.7" cy="207.5" r="2.12"/><circle cx="590.9" cy="209.0" r="2.12"/><circle cx="596.6" cy="209.7" r="2.12"/><circle cx="604.7" cy="229.7" r="2.12"/><circle cx="609.4" cy="228.9" r="2.12"/><circle cx="614.8" cy="230.5" r="2.12"/><circle cx="620.3" cy="228.1" r="2.12"/><circle cx="624.9" cy="229.7" r="2.12"/><circle cx="628.8" cy="231.2" r="2.12"/><circle cx="621.8" cy="233.6" r="2.12"/><circle cx="617.1" cy="234.4" r="2.12"/><circle cx="627.3" cy="234.4" r="2.12"/><circle cx="639.0" cy="228.1" r="2.12"/><circle cx="642.1" cy="229.7" r="2.12"/><circle cx="639.0" cy="234.4" r="2.12"/><circle cx="641.3" cy="236.7" r="2.12"/><circle cx="646.8" cy="231.2" r="2.12"/><circle cx="648.3" cy="235.9" r="2.12"/><circle cx="649.9" cy="240.6" r="2.12"/><circle cx="653.8" cy="231.2" r="2.12"/><circle cx="656.9" cy="234.4" r="2.12"/><circle cx="659.2" cy="229.7" r="2.12"/><circle cx="623.4" cy="240.6" r="2.12"/><circle cx="626.5" cy="243.7" r="2.12"/><circle cx="629.6" cy="246.8" r="2.12"/><circle cx="631.9" cy="244.5" r="2.12"/><circle cx="633.5" cy="247.6" r="2.12"/><circle cx="627.3" cy="250.7" r="2.12"/><circle cx="624.9" cy="253.8" r="2.12"/><circle cx="639.0" cy="252.3" r="2.12"/><circle cx="641.3" cy="255.4" r="2.12"/><circle cx="644.4" cy="257.7" r="2.12"/><circle cx="648.3" cy="256.2" r="2.12"/><circle cx="650.6" cy="258.5" r="2.12"/><circle cx="653.0" cy="253.8" r="2.12"/><circle cx="654.5" cy="261.6" r="2.12"/><circle cx="651.4" cy="263.2" r="2.12"/><circle cx="657.7" cy="258.5" r="2.12"/><circle cx="656.1" cy="250.7" r="2.12"/></g><line x1="543.3" y1="273.1" x2="789.6" y2="78.6" stroke="#1a1a1a" stroke-width="1.2" stroke-dasharray="3.3 2.8"/></svg>
<div class="t" style="left:-0.6px;top:-1.6px;font-size:22.5px;font-weight:bold;transform-origin:0 0;transform:scaleX(1.13);">A</div>
<div class="t" style="left:424.5px;top:0.5px;font-size:21.5px;font-weight:bold;">B</div>
<div class="t" style="left:341px;top:128.5px;font-size:12.6px;">76°</div>
<div class="t" style="left:341px;top:187px;font-size:12.6px;">56°</div>
<div class="t" style="left:341px;top:240.5px;font-size:12.6px;">90°</div>
<div class="t" style="left:381px;top:157.5px;font-size:12.6px;">52°</div>
<div class="t" style="left:204.5px;top:327px;font-size:14px;">0</div>
<div class="t" style="left:306px;top:327.5px;font-size:13.5px;">max</div>
<div class="t" style="left:490.5px;top:69.5px;font-size:17.5px;letter-spacing:-1.1px;">0.1</div>
<div class="t" style="left:496.9px;top:262.3px;font-size:18px;transform-origin:0 0;transform:scaleX(1.12);">0</div>
<div class="t" style="left:537.2px;top:298.8px;font-size:18px;transform-origin:0 0;transform:scaleX(1.12);">0</div>
<div class="t" style="left:777.6px;top:298.8px;font-size:18px;letter-spacing:-0.6px;">0.1</div>
<div class="t" style="left:697px;top:65.5px;font-size:18.5px;">n=1035</div>
<div class="t" style="left:598.5px;top:337.5px;font-size:14px;transform-origin:0 0;transform:scaleX(0.945);">Plaid Response (a.u)</div>
<div class="t" style="left:457.3px;top:178px;font-size:13.75px;transform:translate(-50%,-50%) rotate(-90deg);">Average Component Response (a.u.)</div>
</body></html>
